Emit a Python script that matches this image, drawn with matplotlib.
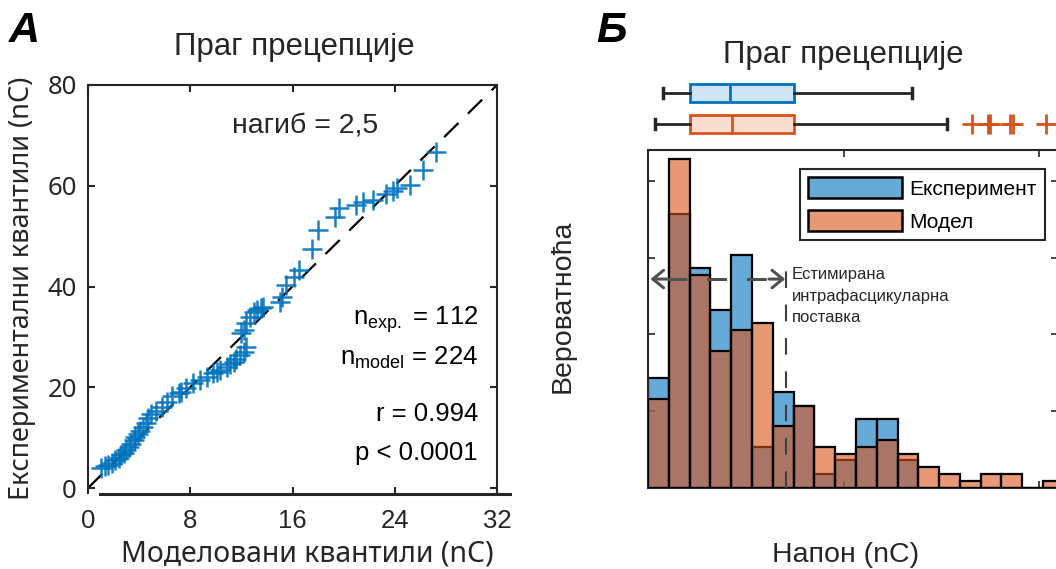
import numpy as np
import matplotlib
matplotlib.use("Agg")
import matplotlib.pyplot as plt
from matplotlib.patches import Patch

# ---------------- data ----------------
# Q-Q plot: model quantiles vs experimental quantiles (nC)
model_q = [1.0, 1.3, 1.6, 1.9, 2.1, 2.4, 2.6, 2.8, 3.0, 3.2, 3.4, 3.6, 3.7, 3.9,
           4.1, 4.3, 4.5, 4.7, 4.9, 5.3, 5.8, 6.2, 6.6, 7.1, 7.3, 7.7, 8.2, 8.8,
           9.3, 9.8, 10.1, 10.3, 10.9, 11.1, 11.4, 11.6, 11.9, 12.2, 12.4, 12.0,
           12.2, 12.4, 12.7, 13.0, 13.2, 13.5, 13.7, 15.0, 15.2, 15.5, 16.1, 16.5,
           17.5, 18.0, 19.3, 19.6, 21.0, 21.5, 22.3, 23.3, 23.9, 24.2, 25.2, 26.2,
           27.2]
exp_q = [4.0, 4.3, 4.6, 5.0, 5.6, 6.0, 6.5, 7.0, 7.6, 8.2, 8.8, 9.5, 10.1, 10.8,
         11.4, 12.2, 13.0, 13.8, 14.6, 15.3, 16.0, 17.0, 18.2, 18.8, 19.1, 19.8,
         20.8, 21.4, 22.1, 22.8, 23.1, 23.4, 24.1, 24.7, 25.1, 25.7, 26.4, 27.0,
         28.0, 30.7, 31.3, 32.7, 34.0, 35.0, 35.3, 35.7, 36.0, 37.0, 38.0, 40.3,
         41.9, 43.3, 47.5, 51.2, 53.8, 55.6, 56.2, 56.8, 57.2, 58.3, 58.9, 59.6,
         60.1, 63.1, 66.7]
slope = 2.5

# Histogram: probability per bin
bin_width = 2.125
p_exp = [0.0714, 0.1786, 0.1429, 0.1161, 0.1518, 0.0268, 0.0625, 0.0536, 0.0089,
         0.0179, 0.0446, 0.0446, 0.0179, 0.0, 0.0, 0.0, 0.0, 0.0, 0.0, 0.0]
p_model = [0.0580, 0.2143, 0.1384, 0.0893, 0.1027, 0.1071, 0.0402, 0.0536, 0.0268,
           0.0223, 0.0268, 0.0313, 0.0223, 0.0134, 0.0089, 0.0045, 0.0089, 0.0089,
           0.0, 0.0045]

# Box plot summaries (nC): whislo, q1, median, q3, whishi
box_exp = [1.5, 4.3, 8.4, 14.9, 27.0]
box_model = [0.7, 4.3, 8.6, 14.9, 30.6]
model_outliers = [33.1, 34.7, 34.9, 37.0, 37.3, 40.7]
placement = 14.07  # estimated intrafascicular placement (nC)

# ---------------- style ----------------
BLUE = '#0072BD'
ORANGE = '#D95319'
AX = '#262626'
plt.rcParams['font.family'] = ['Liberation Sans', 'DejaVu Sans']
plt.rcParams['mathtext.fontset'] = 'custom'
plt.rcParams['mathtext.rm'] = 'Liberation Sans'
plt.rcParams['mathtext.it'] = 'Liberation Sans:italic'
NARROW = ['Liberation Sans Narrow', 'Liberation Sans']
TICKF = ['Noto Sans', 'DejaVu Sans']

W, H = 1056, 569
fig = plt.figure(figsize=(W / 100, H / 100), dpi=100)


def rect(l, t, r, b):
    return [l / W, 1 - b / H, (r - l) / W, (b - t) / H]


def fx(px):
    return px / W


def fy(py):
    return 1 - py / H


# ---------------- panel A ----------------
axA = fig.add_axes(rect(88, 85, 497, 488))
xs = np.array([0, 32])
axA.plot(xs, slope * xs, color='black', lw=1.6, dashes=(9, 6), zorder=1)
axA.plot(model_q, exp_q, linestyle='none', marker='+', ms=15, mew=1.8,
         color=BLUE, alpha=0.9, zorder=2)
axA.set_xlim(0, 32)
axA.set_ylim(0, 80)
axA.set_xticks([0, 8, 16, 24, 32])
axA.set_yticks([0, 20, 40, 60, 80])
axA.tick_params(direction='in', length=5, width=1.5, color=AX, top=True, right=True,
                labelsize=18.5, labelcolor=AX)
axA.tick_params(axis='x', pad=11)
axA.tick_params(axis='y', pad=8)
for lab in axA.get_xticklabels() + axA.get_yticklabels():
    lab.set_family(TICKF)
for s in axA.spines.values():
    s.set_color(AX)
    s.set_linewidth(1.5)
axA.spines['bottom'].set_position(('outward', 4))
axA.spines['bottom'].set_bounds(0.95, 33.0)
axA.spines['bottom'].set_linewidth(2.2)
fig.text(fx(307), fy(562), 'Моделовани квантили (nC)', fontsize=20.5,
         family=TICKF, color=AX, ha='center', va='baseline')
fig.text(fx(22), fy(288), 'Експериментални квантили (nC)', fontsize=19.5,
         family=TICKF, color=AX, ha='center', va='center', rotation=90)
fig.text(fx(294), fy(55), 'Праг прецепције', fontsize=22.5, color=AX,
         ha='center', va='baseline')
axA.text(0.53, 0.9, 'нагиб = 2,5', transform=axA.transAxes, ha='center',
         va='center', fontsize=20.5, color=AX)
stats = [(r'n$_{\mathrm{exp.}}$ = 112', 325), (r'n$_{\mathrm{model}}$ = 224', 365),
         ('r = 0.994', 421), ('p < 0.0001', 460)]
for s, yb in stats:
    fig.text(fx(478), fy(yb), s, ha='right', va='baseline', fontsize=18.5,
             color='black')

# ---------------- panel B: histogram ----------------
axB = fig.add_axes(rect(648, 150, 1058, 488))
edges = np.arange(len(p_exp) + 1) * bin_width
left = edges[:-1]
axB.bar(left, p_exp, width=bin_width, align='edge',
        facecolor=matplotlib.colors.to_rgba(BLUE, 0.6), edgecolor='black',
        linewidth=1.6, zorder=2)
axB.bar(left, p_model, width=bin_width, align='edge',
        facecolor=matplotlib.colors.to_rgba(ORANGE, 0.6), edgecolor='black',
        linewidth=1.6, zorder=3)
axB.set_xlim(0, 41.9)
axB.set_ylim(0, 0.22)
axB.set_xticks([0, 20, 40])
axB.set_yticks([0, 0.05, 0.1, 0.15, 0.2])
axB.tick_params(direction='in', length=5, width=1.2, color=AX, top=True,
                right=True, labelbottom=False, labelleft=False)
for s in axB.spines.values():
    s.set_color(AX)
    s.set_linewidth(1.5)

# estimated placement marker: vertical dashed line and double arrow
GREY = '#505050'
axB.plot([placement, placement], [0, 0.151], color='#404040', lw=1.5,
         dashes=(8, 8), zorder=4)
y_arr = 0.136
axB.plot([1.9, placement - 1.7], [y_arr, y_arr], color=GREY, lw=2.2,
         dashes=(6.5, 6.5), dash_capstyle='butt', zorder=4)
for tip, tail in [(0.25, 1.9), (placement - 0.05, placement - 1.7)]:
    axB.annotate('', xy=(tip, y_arr), xytext=(tail, y_arr),
                 arrowprops=dict(arrowstyle='->,head_length=0.55,head_width=0.45',
                                 color=GREY, lw=2.2, mutation_scale=14,
                                 shrinkA=0, shrinkB=0), zorder=4)
axB.text(placement + 0.6, 0.144, 'Естимирана\nинтрафасцикуларна\nпоставка',
         family=NARROW, fontsize=12, color=AX, va='top', ha='left',
         linespacing=1.5, zorder=5)

leg = axB.legend(handles=[
    Patch(facecolor=matplotlib.colors.to_rgba(BLUE, 0.6), edgecolor='black', lw=1.8,
          label='Експеримент'),
    Patch(facecolor=matplotlib.colors.to_rgba(ORANGE, 0.6), edgecolor='black',
          lw=1.8, label='Модел')],
    loc='upper left', bbox_to_anchor=((800 - 648) / 410, 1 - (169 - 150) / 338),
    bbox_transform=axB.transAxes, fancybox=False, edgecolor=AX,
    framealpha=1, borderpad=0.4, handlelength=4.5, handleheight=1.15,
    handletextpad=0.35, labelspacing=0.55, borderaxespad=0,
    prop={'family': NARROW, 'size': 15})
leg.get_frame().set_linewidth(1.5)

# ---------------- panel B: box plots ----------------
axBox = fig.add_axes(rect(648, 80, 1058, 140))


def bstats(v, fl):
    return dict(whislo=v[0], q1=v[1], med=v[2], q3=v[3], whishi=v[4], fliers=fl)


for pos, vals, fl, col, fc in [(2, box_exp, [], BLUE, '#CFE3F2'),
                               (1, box_model, model_outliers, ORANGE, '#F8DDD1')]:
    axBox.bxp([bstats(vals, fl)], positions=[pos], widths=0.55, vert=False,
              patch_artist=True,
              boxprops=dict(facecolor=fc, edgecolor=col, linewidth=2),
              medianprops=dict(color=col, linewidth=2),
              whiskerprops=dict(color=AX, linewidth=2),
              capprops=dict(color=AX, linewidth=2.5),
              capwidths=0.3,
              flierprops=dict(marker='+', markeredgecolor=col, markersize=15,
                              markeredgewidth=2, linestyle='none'))
axBox.set_xlim(0, 41.9)
axBox.set_ylim(0.484, 2.42)
axBox.axis('off')

fig.text(fx(843), fy(63), 'Праг прецепције', ha='center', va='baseline',
         fontsize=22.5, color=AX)
fig.text(fx(846), fy(562), 'Напон (nC)', ha='center', va='baseline',
         fontsize=20.5, color=AX)
fig.text(fx(563), fy(306), 'Вероватноћа', ha='center', va='center',
         rotation=90, fontsize=20.5, color=AX)

# panel letters
fig.text(fx(9), fy(42), 'A', fontsize=31, weight='bold', style='italic',
         va='baseline', color='black')
fig.text(fx(596), fy(42), 'Б', fontsize=31, weight='bold', style='italic',
         va='baseline', color='black')

fig.savefig('out.png', dpi=100)
